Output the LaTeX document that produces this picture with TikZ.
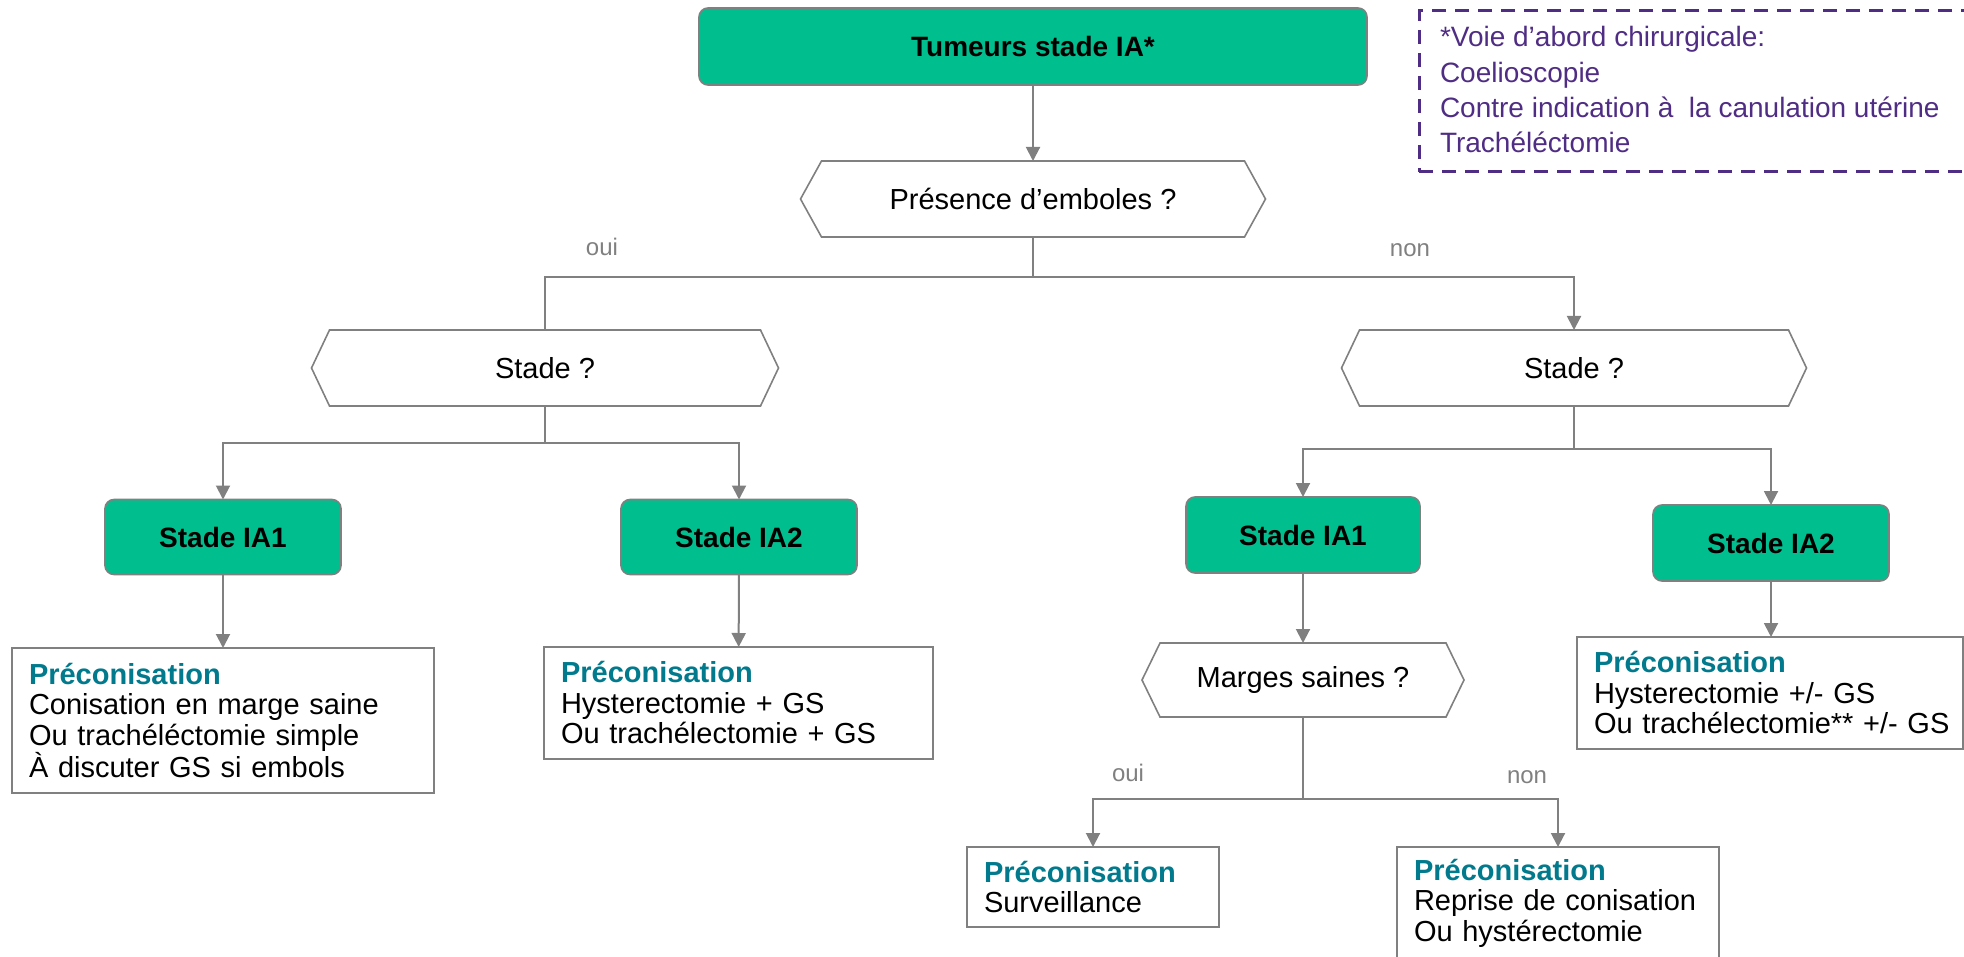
\documentclass[tikz,border=0pt]{standalone}
\usepackage{fontspec}
\setmainfont{Liberation Sans}
\usetikzlibrary{arrows.meta}

\definecolor{boxgreen}{RGB}{0,190,142}
\definecolor{linegray}{RGB}{128,128,128}
\definecolor{tealtext}{RGB}{0,122,140}
\definecolor{notepurple}{RGB}{80,45,132}

\newcommand\bodysize{\fontsize{29}{30.5}\selectfont}
\newcommand\labelsize{\fontsize{28}{30}\selectfont}
\newcommand\notesize{\fontsize{28}{35.3}\selectfont}
% hexagonal outline around a question node: #1 node name, #2 slant in pt
\newcommand\hexoutline[2]{%
  \draw[hexline] (#1.west) -- ([xshift=#2pt]#1.north west) -- ([xshift=-#2pt]#1.north east)
    -- (#1.east) -- ([xshift=-#2pt]#1.south east) -- ([xshift=#2pt]#1.south west) -- cycle;}
\newcommand\advicehead{\textcolor{tealtext}{\bfseries Préconisation}}

\begin{document}
\lineskiplimit=-100pt
\begin{tikzpicture}[x=1pt,y=-1pt,
  every node/.style={outer sep=0pt},
  conn/.style={draw=linegray, line width=2pt},
  arr/.style={conn, -{Triangle[width=14pt,length=14pt]}},
  stagebox/.style={draw=linegray, line width=1.6pt, fill=boxgreen, rounded corners=9pt,
    font=\labelsize\bfseries, inner sep=0pt},
  question/.style={inner sep=0pt, font=\bodysize},
  hexline/.style={draw=linegray, line width=1.6pt},
  advice/.style={draw=linegray, line width=2pt, fill=white, align=left,
    inner xsep=17pt, inner ysep=0pt, font=\bodysize},
  answer/.style={text=linegray, font=\fontsize{24}{26}\selectfont, inner sep=0pt},
  note/.style={draw=notepurple, line width=3pt, dash pattern=on 14pt off 9pt},
]
\useasboundingbox (0,0) rectangle (1964,957);
\clip (0,0) rectangle (1964,957);

% footnote frame on the upper right
\node[note, minimum width=600pt, minimum height=161pt, anchor=north west] (frame) at (1419,11) {};
\node[anchor=north west, inner sep=0pt, align=left, text=notepurple, font=\notesize]
  (notetext) at (1440,26.5)
  {*Voie d’abord chirurgicale:\\Coelioscopie\\Contre indication à\ \ la canulation utérine\\Trachéléctomie};

% top of the tree
\node[stagebox, minimum width=668pt, minimum height=77pt] (top) at (1033,46.5) {Tumeurs stade IA*};
\node[question, minimum width=465pt, minimum height=76pt] (emb) at (1033,199) {Présence d’emboles ?};
\hexoutline{emb}{21}

\node[question, minimum width=467pt, minimum height=76pt] (stL) at (545,368) {Stade ?};
\hexoutline{stL}{18}
\node[question, minimum width=465pt, minimum height=76pt] (stR) at (1574,368) {Stade ?};
\hexoutline{stR}{18}

% stage boxes
\node[stagebox, minimum width=236pt, minimum height=75pt] (ia1L) at (223,537) {Stade IA1};
\node[stagebox, minimum width=236pt, minimum height=75pt] (ia2L) at (739,537) {Stade IA2};
\node[stagebox, minimum width=234pt, minimum height=76pt] (ia1R) at (1303,535) {Stade IA1};
\node[stagebox, minimum width=236pt, minimum height=76pt] (ia2R) at (1771,543) {Stade IA2};

\node[question, minimum width=322pt, minimum height=74pt] (marg) at (1303,680) {Marges saines ?};
\hexoutline{marg}{18}

% recommendations
\node[advice, text width=388pt, minimum height=145pt] (recL1) at (223,720.5)
  {\advicehead\\Conisation en marge saine\\Ou trachéléctomie simple\\À discuter GS si embols};
\node[advice, text width=355pt, minimum height=112pt] (recL2) at (738.5,703)
  {\advicehead\\Hysterectomie + GS\\Ou trachélectomie + GS};
\node[advice, text width=352pt, minimum height=112pt] (recR) at (1770,693)
  {\advicehead\\Hysterectomie +/- GS\\\mbox{Ou trachélectomie** +/- GS}};
\node[advice, text width=218pt, minimum height=80pt] (recS) at (1093,887)
  {\advicehead\\Surveillance};
\node[advice, text width=288pt, minimum height=112pt] (recC) at (1558,903)
  {\advicehead\\Reprise de conisation\\Ou hystérectomie};

% branch answers
\node[answer] (yes1) at (602,247) {oui};
\node[answer] (no1) at (1410,250) {non};
\node[answer] (yes2) at (1128,773) {oui};
\node[answer] (no2) at (1527,777) {non};

% junctions
\coordinate (j1) at (1033,277);
\coordinate (j2) at (545,443);
\coordinate (j3) at (1574,449);
\coordinate (j4) at (1303,799);

% connectors
\draw[arr] (top) -- (emb);
\draw[conn] (emb) -- (j1);
\draw[conn] (j1) -| (stL.north);
\draw[arr] (j1) -| (stR.north);

\draw[conn] (stL) -- (j2);
\draw[arr] (j2) -| (ia1L.north);
\draw[arr] (j2) -| (ia2L.north);
\draw[arr] (ia1L) -- (recL1);
\draw[arr] (ia2L) -- (recL2);

\draw[conn] (stR) -- (j3);
\draw[arr] (j3) -| (ia1R.north);
\draw[arr] (j3) -| (ia2R.north);
\draw[arr] (ia2R.south) -- (ia2R.south |- recR.north);
\draw[arr] (ia1R) -- (marg);

\draw[conn] (marg) -- (j4);
\draw[arr] (j4) -| (recS.north);
\draw[arr] (j4) -| (recC.north);
\end{tikzpicture}
\end{document}
